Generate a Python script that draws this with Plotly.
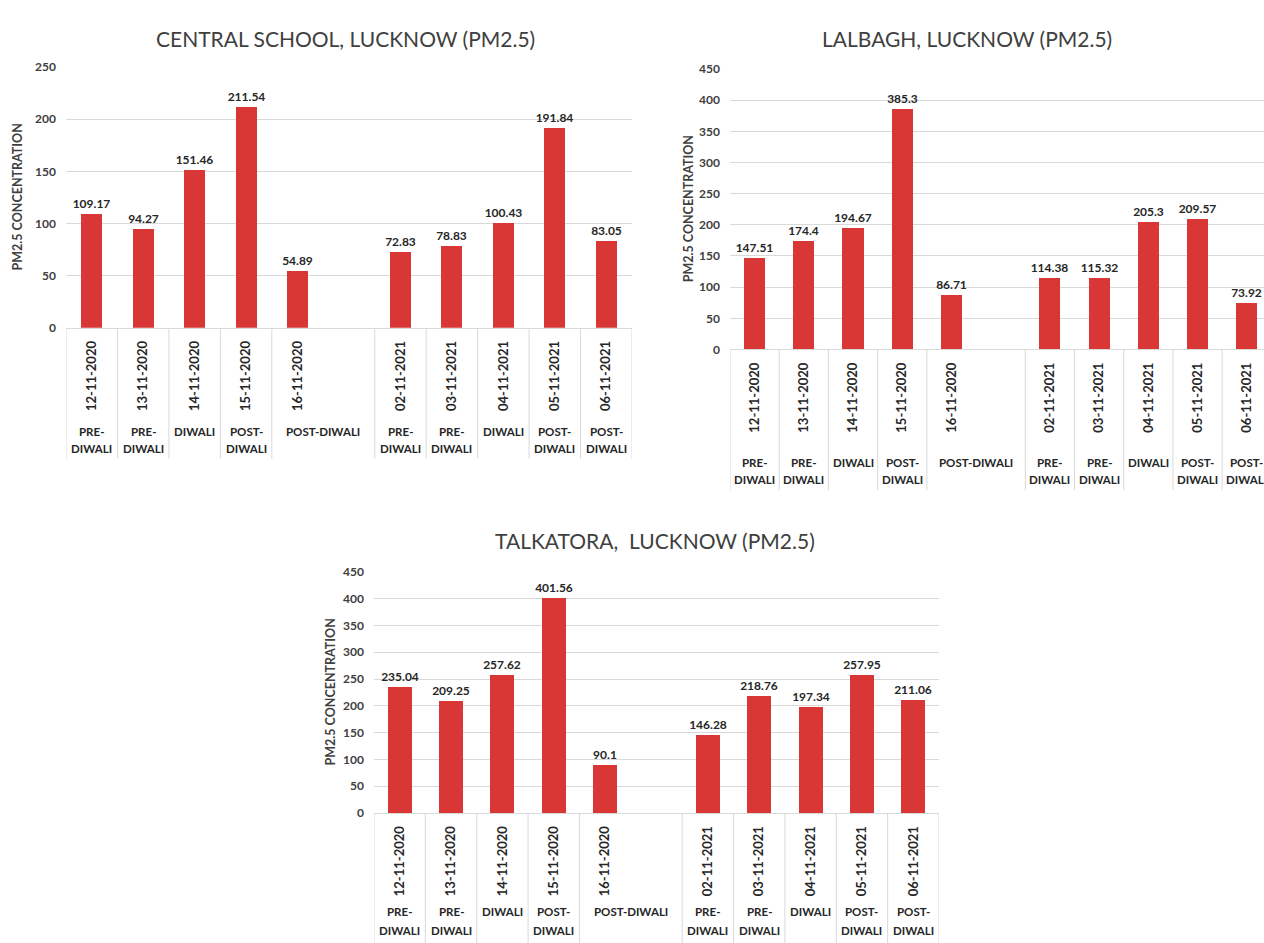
import plotly.graph_objects as go

W, H = 1264, 943

# ---- data -------------------------------------------------------------
dates = ["12-11-2020", "13-11-2020", "14-11-2020", "15-11-2020", "16-11-2020",
         "02-11-2021", "03-11-2021", "04-11-2021", "05-11-2021", "06-11-2021"]
phases = ["PRE-DIWALI", "PRE-DIWALI", "DIWALI", "POST-DIWALI", "POST-DIWALI",
          "PRE-DIWALI", "PRE-DIWALI", "DIWALI", "POST-DIWALI", "POST-DIWALI"]

central_school = [109.17, 94.27, 151.46, 211.54, 54.89, 72.83, 78.83, 100.43, 191.84, 83.05]
lalbagh = [147.51, 174.4, 194.67, 385.3, 86.71, 114.38, 115.32, 205.3, 209.57, 73.92]
talkatora = [235.04, 209.25, 257.62, 401.56, 90.1, 146.28, 218.76, 197.34, 257.95, 211.06]

titles = ["CENTRAL SCHOOL, LUCKNOW (PM2.5)", "LALBAGH, LUCKNOW (PM2.5)",
          "TALKATORA,  LUCKNOW (PM2.5)"]
y_max = [250, 450, 450]
y_step = 50
y_title = "PM2.5 CONCENTRATION"

# empty slot separating the two years on the category axis
GAP = " "
slots = dates[:5] + [GAP] + dates[5:]

# ---- styling ----------------------------------------------------------
BAR = "#D93636"
GRID = "#D9D9D9"
TXT = "#404040"
DARK = "#262626"
FONT = "Lato, Open Sans, sans-serif"

# panel geometry in pixels
panels = [
    dict(vals=central_school, left=66, right=632, top=60, bottom=325, xr=[-0.5, 10.5],
         bw=0.41, cat_bottom=458, tx=345, ty=31, yt_x=17, ph1=430, ph2=448),
    dict(vals=lalbagh, left=730, right=1264, top=62, bottom=347, xr=[-0.5, 10.35],
         bw=0.43, cat_bottom=490, tx=967, ty=31, yt_x=688, ph1=462, ph2=479),
    dict(vals=talkatora, left=374, right=939, top=573, bottom=818, xr=[-0.5, 10.5],
         bw=0.47, cat_bottom=960, tx=655, ty=541, yt_x=330, ph1=918, ph2=937),
]


def px(x):
    return x / W


def py(y):
    return 1 - y / H


def bold(size, color=DARK):
    return dict(family=FONT, size=size, color=color, weight="bold")


fig = go.Figure()
annotations = []
shapes = []

for i, (p, title, ymax) in enumerate(zip(panels, titles, y_max)):
    n = "" if i == 0 else str(i + 1)
    xa, ya = "x" + n, "y" + n

    fig.add_trace(go.Bar(
        x=dates, y=p["vals"], xaxis=xa, yaxis=ya,
        width=p["bw"], marker=dict(color=BAR, line=dict(width=0)),
        text=[f"{v:g}" for v in p["vals"]], textposition="outside",
        textfont=bold(12), constraintext="none",
        cliponaxis=False, showlegend=False, hoverinfo="x+y",
    ))

    fig.layout["xaxis" + n] = dict(
        domain=[px(p["left"]), px(p["right"])], anchor=ya,
        type="category", categoryorder="array", categoryarray=slots,
        range=p["xr"], tickmode="array", tickvals=dates, ticktext=dates,
        tickangle=-90, ticks="", ticklabelstandoff=7,
        tickfont=bold(13),
        showgrid=False, zeroline=False, showline=True, linecolor=GRID, linewidth=1,
        fixedrange=True,
    )
    fig.layout["yaxis" + n] = dict(
        domain=[py(p["bottom"]), py(p["top"])], anchor=xa,
        range=[0, ymax], tick0=0, dtick=y_step, ticks="",
        tickfont=bold(12, TXT), ticklabelstandoff=9,
        showgrid=True, gridcolor=GRID, gridwidth=1, zeroline=False,
        showline=False, fixedrange=True,
    )

    # chart title
    annotations.append(dict(
        text=title, x=px(p["tx"]), y=py(p["ty"]), xref="paper", yref="paper",
        xanchor="center", yanchor="middle", showarrow=False,
        font=dict(family=FONT, size=21, color=TXT),
    ))
    # vertical axis title
    annotations.append(dict(
        text=y_title, x=px(p["yt_x"]), y=py((p["top"] + p["bottom"]) / 2),
        xref="paper", yref="paper", xanchor="center", yanchor="middle",
        textangle=-90, showarrow=False, font=bold(12.5, TXT),
    ))

    # separators of the category table (no line between 16-11-2020 and the gap)
    for b in range(len(slots) + 1):
        if b == 5:
            continue
        shapes.append(dict(
            type="line", xref=xa, yref="paper", x0=b - 0.5, x1=b - 0.5,
            y0=py(p["bottom"]), y1=py(p["cat_bottom"]),
            line=dict(color=GRID, width=1),
        ))

    # phase labels under the dates
    for d, ph in zip(dates, phases):
        idx = slots.index(d)
        wide = idx + 1 < len(slots) and slots[idx + 1] == GAP
        if wide or "-" not in ph:
            lines = [(ph, p["ph1"], idx + 0.5 if wide else idx)]
        else:
            a, b2 = ph.split("-", 1)
            lines = [(a + "-", p["ph1"], idx), (b2, p["ph2"], idx)]
        for t, yy, xx in lines:
            annotations.append(dict(
                text=t, x=xx, y=py(yy), xref=xa, yref="paper",
                xanchor="center", yanchor="middle", showarrow=False,
                font=bold(11.5),
            ))

fig.update_layout(
    width=W, height=H, margin=dict(l=0, r=0, t=0, b=0),
    paper_bgcolor="white", plot_bgcolor="white",
    annotations=annotations, shapes=shapes, bargap=0,
    font=dict(family=FONT),
)

fig.write_html("out.html", config={"displayModeBar": False})
